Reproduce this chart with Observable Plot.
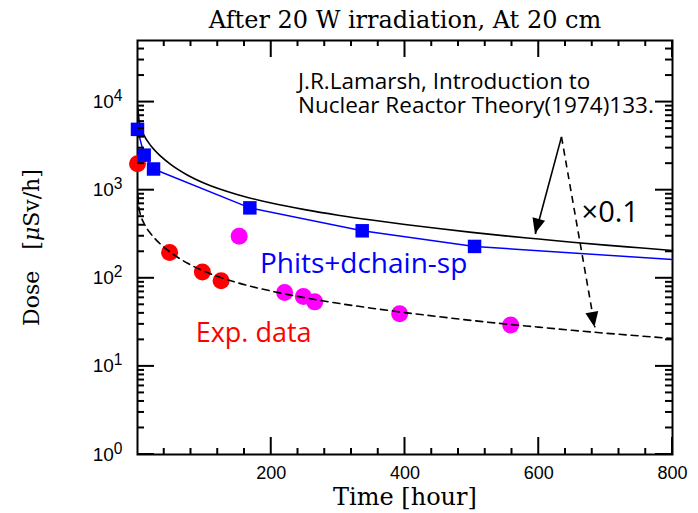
<!DOCTYPE html>
<html>
<head>
<meta charset="utf-8">
<script src="https://cdn.jsdelivr.net/npm/d3@7"></script>
<script src="https://cdn.jsdelivr.net/npm/@observablehq/plot@0.6"></script>
<style>
  html, body { margin: 0; padding: 0; background: #fff; }
</style>
</head>
<body>
<div id="chart"></div>
<script>
// Texts
const titleText = "After 20 W irradiation, At 20 cm";
const xLabel = "Time [hour]";
const yLabel = "Dose   [μSv/h]";
const refText = "J.R.Lamarsh, Introduction to\nNuclear Reactor Theory(1974)133.";
const phitsText = "Phits+dchain-sp";
const expText = "Exp. data";
const scaleText = "×0.1";

// Lamarsh decay curve (hours, µSv/h)
const theoryTime = [0.5, 2, 5, 10, 20, 35, 50, 75, 100, 150, 200, 250, 300, 350, 400, 450, 500, 550, 600, 650, 700, 750, 800];
const theoryDose = [8730, 6435, 5120, 4160, 3195, 2415, 1950, 1480, 1200, 889, 716, 602, 520, 458, 408, 367, 332, 303, 279, 257, 238, 222, 207];
const theoryFactor = 0.1;

// PHITS + DCHAIN-SP calculation
const phitsTime = [0, 10, 24, 168, 336, 504];
const phitsDose = [4900, 2500, 1740, 630, 346, 230];
const phitsEndTime = 800;
const phitsEndDose = 163;

// Measurements
const expTime = [0, 48, 97, 125];
const expDose = [2000, 196, 118, 94];
const exp2Time = [152, 220, 248, 265, 392, 558];
const exp2Dose = [300, 69, 62, 54, 39.5, 29.5];

// Ticks
const xMajorTicks = [200, 400, 600, 800];
const xMinorTicks = d3.range(40, 800, 40).filter(v => v % 200 !== 0);
const yMajorTicks = [1, 10, 100, 1000, 10000];
const yMinorTicks = [1, 10, 100, 1000, 10000].flatMap(p => d3.range(2, 10).map(m => m * p)).filter(v => v < 5e4);

// Annotation anchors (time, dose)
const refArrowFrom = {time: 634, dose: 4030};
const refArrowSolidTo = {time: 595, dose: 318};
const refArrowDashedTo = {time: 684, dose: 27.7};
const refPos = {time: 240, dose: 7600};
const phitsPos = {time: 183, dose: 116};
const expPos = {time: 87, dose: 18.8};
const scalePos = {time: 664, dose: 430};

const theory = theoryTime.map((t, i) => ({time: t, dose: theoryDose[i]}));
const theoryScaled = theory.map(d => ({time: d.time, dose: d.dose * theoryFactor}));
const phits = phitsTime.map((t, i) => ({time: t, dose: phitsDose[i]}));
const phitsCurve = [...phits, {time: phitsEndTime, dose: phitsEndDose}];
const exp = expTime.map((t, i) => ({time: t, dose: expDose[i]}));
const exp2 = exp2Time.map((t, i) => ({time: t, dose: exp2Dose[i]}));

const serif = "'DejaVu Serif', serif";
const sans = "'Open Sans', 'Noto Sans', sans-serif";

const chart = Plot.plot({
  width: 698,
  height: 513,
  marginLeft: 137,
  marginRight: 26,
  marginTop: 40,
  marginBottom: 59,
  style: {background: "#fff", color: "#000", fontFamily: "'Liberation Sans', Arial, sans-serif"},
  x: {domain: [0, 800]},
  y: {type: "log", domain: [1, 5e4]},
  marks: [
    Plot.frame({stroke: "#000", strokeWidth: 2}),

    // data
    Plot.dot(exp, {x: "time", y: "dose", r: 8.5, fill: "#ff0000"}),
    Plot.dot(exp2, {x: "time", y: "dose", r: 8.5, fill: "#ff00ff"}),
    Plot.line(theory, {x: "time", y: "dose", stroke: "#000", strokeWidth: 1.6, curve: "monotone-x"}),
    Plot.line(theoryScaled, {x: "time", y: "dose", stroke: "#000", strokeWidth: 1.6, strokeDasharray: "7,5", curve: "monotone-x"}),
    Plot.line(phitsCurve, {x: "time", y: "dose", stroke: "#0000ff", strokeWidth: 1.5}),
    Plot.dot(phits, {x: "time", y: "dose", symbol: "square", r: 7.6, fill: "#0000ff"}),

    // reference arrows (shafts; heads added below)
    Plot.link([0], {x1: () => refArrowFrom.time, y1: () => refArrowFrom.dose, x2: () => refArrowSolidTo.time, y2: () => refArrowSolidTo.dose, stroke: "#000", strokeWidth: 1.6}),
    Plot.link([0], {x1: () => refArrowFrom.time, y1: () => refArrowFrom.dose, x2: () => refArrowDashedTo.time, y2: () => refArrowDashedTo.dose, stroke: "#000", strokeWidth: 1.6, strokeDasharray: "7,5"}),

    // annotations
    Plot.text([refText], {x: () => refPos.time, y: () => refPos.dose, text: d => d, textAnchor: "start", lineAnchor: "bottom", lineHeight: 1.05, fontSize: 22.5, fontFamily: sans, fill: "#000"}),
    Plot.text([phitsText], {x: () => phitsPos.time, y: () => phitsPos.dose, text: d => d, textAnchor: "start", lineAnchor: "bottom", fontSize: 28, fontFamily: sans, fill: "#0000ff"}),
    Plot.text([expText], {x: () => expPos.time, y: () => expPos.dose, text: d => d, textAnchor: "start", lineAnchor: "bottom", fontSize: 27, fontFamily: sans, fill: "#ff0000"}),
    Plot.text([scaleText], {x: () => scalePos.time, y: () => scalePos.dose, text: d => d, textAnchor: "start", lineAnchor: "bottom", fontSize: 29, fontFamily: sans, fill: "#000"}),

    // tick labels
    Plot.axisX(xMajorTicks, {anchor: "bottom", tickSize: 0, tickPadding: 12, fontSize: 18, label: null}),
    Plot.axisY(yMajorTicks, {anchor: "left", tickSize: 0, tickPadding: 15, fontSize: 19, label: null,
      tickFormat: d => `10^${Math.round(Math.log10(d))}`}),

    // titles
    Plot.text([titleText], {frameAnchor: "top", dy: -20, lineAnchor: "middle", text: d => d, fontSize: 24, fontFamily: serif, fill: "#000"}),
    Plot.text([xLabel], {frameAnchor: "bottom", dy: 43, lineAnchor: "middle", text: d => d, fontSize: 24, fontFamily: serif, fill: "#000"}),
    Plot.text([yLabel], {frameAnchor: "left", dx: -106, rotate: -90, textAnchor: "middle", lineAnchor: "middle", text: d => d, fontSize: 22, fontFamily: serif, fill: "#000"})
  ]
});

const svg = d3.select(chart);
const sx = chart.scale("x"), sy = chart.scale("y");

// inward ticks on all four sides of the frame, placed with the chart's scales
const [frameLeft, frameRight] = sx.range;
const [frameBottom, frameTop] = sy.range;
const MAJOR = 17, MINOR_X = 6, MINOR_Y = 7;
const tickLayer = svg.append("g").attr("stroke", "#000").attr("stroke-width", 2);
function xTicks(values, size) {
  for (const v of values) {
    const X = sx.apply(v);
    tickLayer.append("line").attr("x1", X).attr("x2", X).attr("y1", frameBottom).attr("y2", frameBottom - size);
    tickLayer.append("line").attr("x1", X).attr("x2", X).attr("y1", frameTop).attr("y2", frameTop + size);
  }
}
function yTicks(values, size) {
  for (const v of values) {
    const Y = sy.apply(v);
    tickLayer.append("line").attr("y1", Y).attr("y2", Y).attr("x1", frameLeft).attr("x2", frameLeft + size);
    tickLayer.append("line").attr("y1", Y).attr("y2", Y).attr("x1", frameRight).attr("x2", frameRight - size);
  }
}
xTicks(xMinorTicks, MINOR_X);
xTicks(xMajorTicks, MAJOR);
yTicks(yMinorTicks, MINOR_Y);
yTicks(yMajorTicks, MAJOR);

// superscript exponents on the log-axis labels
svg.selectAll("text").filter(function () { return /^10\^\d+$/.test(this.textContent); }).each(function () {
  const power = this.textContent.split("^")[1];
  const t = d3.select(this);
  t.text(null);
  t.append("tspan").text("10");
  t.append("tspan").attr("dy", "-0.45em").attr("font-size", "0.82em").text(power);
});

// italic mu in the y label, keeping the wide gap after "Dose"
svg.selectAll("text").filter(function () { return this.textContent === yLabel; }).each(function () {
  const t = d3.select(this).style("white-space", "pre");
  const [a, b] = yLabel.split("μ");
  t.text(null);
  t.append("tspan").text(a);
  t.append("tspan").attr("font-style", "italic").text("μ");
  t.append("tspan").text(b);
});

// filled arrow heads
function arrowHead(from, to) {
  const x1 = sx.apply(from.time), y1 = sy.apply(from.dose);
  const x2 = sx.apply(to.time), y2 = sy.apply(to.dose);
  const a = Math.atan2(y2 - y1, x2 - x1);
  const len = 15, half = 6.5;
  const bx = x2 - len * Math.cos(a), by = y2 - len * Math.sin(a);
  const px = -Math.sin(a) * half, py = Math.cos(a) * half;
  svg.append("path")
    .attr("d", `M${x2},${y2}L${bx + px},${by + py}L${bx - px},${by - py}Z`)
    .attr("fill", "#000");
}
arrowHead(refArrowFrom, refArrowSolidTo);
arrowHead(refArrowFrom, refArrowDashedTo);

document.getElementById("chart").appendChild(chart);
</script>
</body>
</html>
